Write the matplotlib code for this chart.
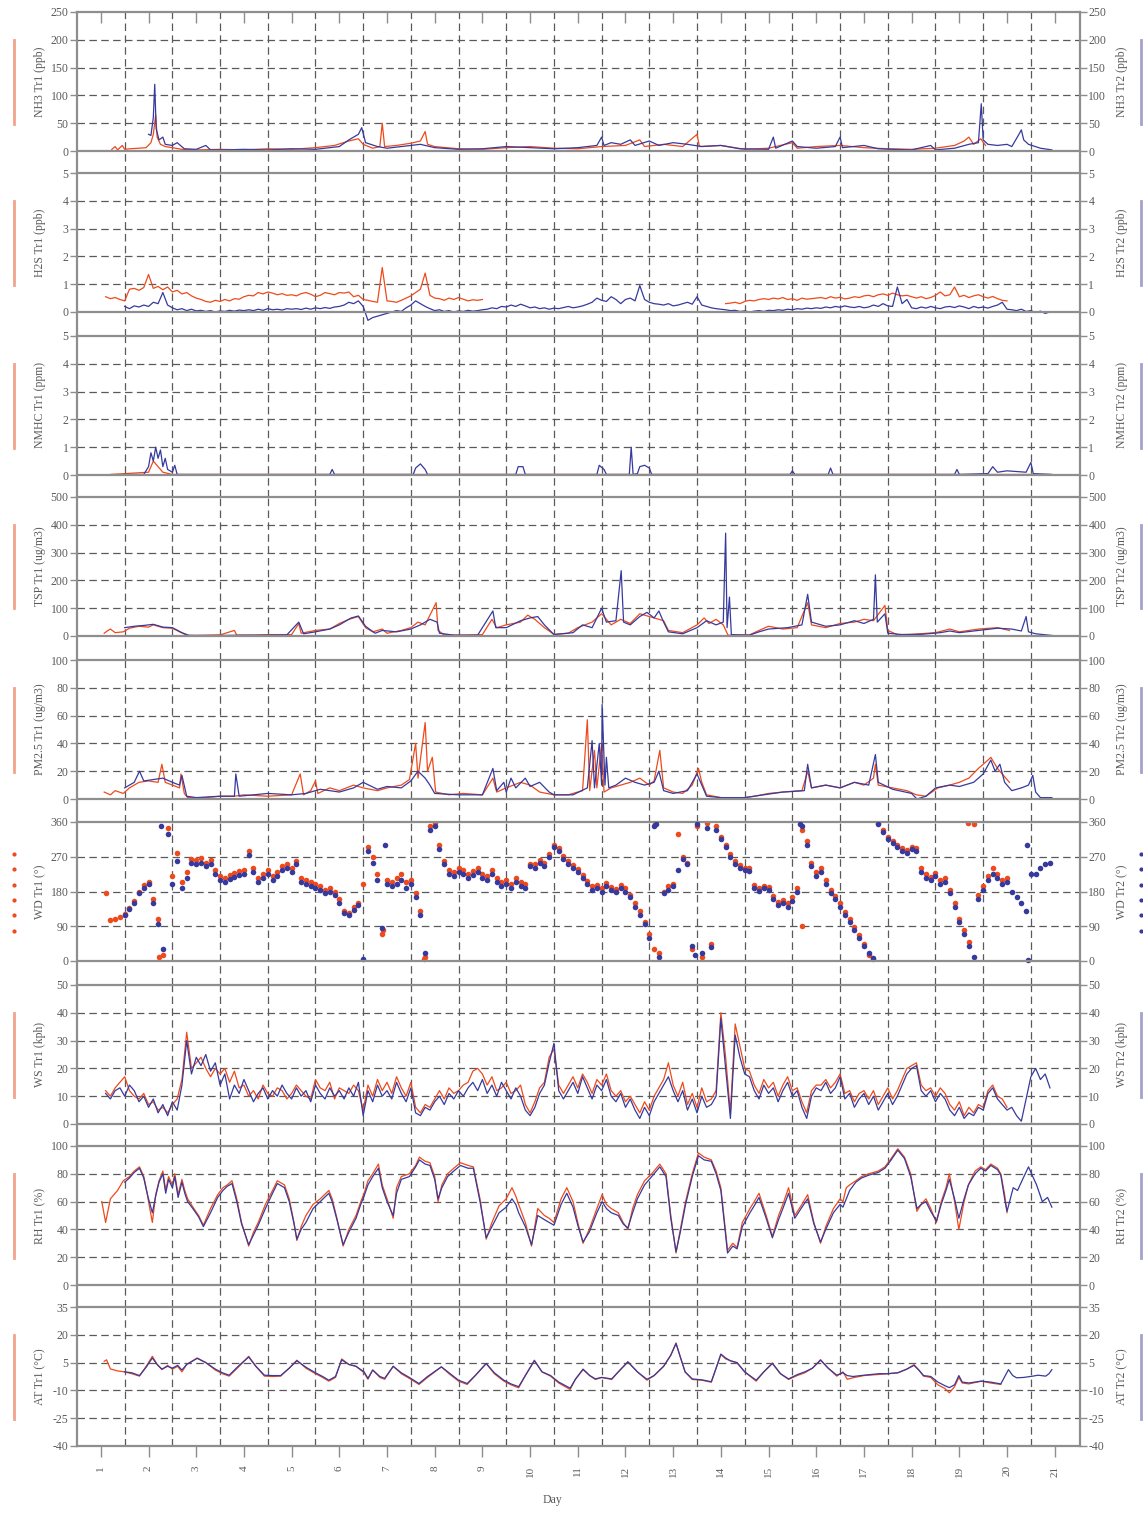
import numpy as np
import matplotlib
matplotlib.use("Agg")
import matplotlib.pyplot as plt
from matplotlib.lines import Line2D

plt.rcParams['font.family'] = ['Liberation Serif', 'DejaVu Serif']

C1 = '#ee4a1c'     # Tr1 orange
C2 = '#363a9e'     # Tr2 blue
GRID = '#5a5a5a'
FRAME = '#8e8e8e'
TXT = '#5a5a5a'

days = list(range(1, 22))
nan = np.nan

# ---------------- data (day, value) ----------------
nh3_tr1 = [(1.23, 3), (1.3, 8), (1.35, 2), (1.45, 10), (1.5, 3), (1.6, 4), (1.8, 5), (1.95, 6),
           (2.05, 15), (2.1, 30), (2.15, 65), (2.18, 25), (2.25, 12), (2.35, 8), (2.5, 6), (2.7, 3),
           (3.0, 2), (3.5, 3), (4.0, 2), (4.5, 4), (5.0, 3), (5.5, 6), (5.9, 10), (6.2, 18), (6.4, 22),
           (6.5, 12), (6.7, 5), (6.85, 8), (6.9, 50), (6.95, 8), (7.2, 10), (7.5, 14), (7.7, 18),
           (7.8, 35), (7.85, 12), (8.0, 8), (8.5, 4), (9.0, 3), (9.5, 6), (10.0, 8), (10.5, 5),
           (11.0, 4), (11.5, 8), (12.0, 10), (12.3, 20), (12.4, 8), (12.8, 12), (13.2, 8), (13.5, 30),
           (13.55, 8), (14.0, 10), (14.5, 3), (15.0, 5), (15.5, 15), (15.6, 5), (16.0, 8), (16.5, 10),
           (17.0, 6), (17.5, 4), (18.0, 3), (18.5, 5), (18.9, 10), (19.1, 18), (19.2, 25), (19.3, 12),
           (19.45, 22), (19.55, 10)]
nh3_tr2 = [(2.0, 30), (2.05, 28), (2.1, 60), (2.13, 120), (2.16, 40), (2.22, 20), (2.3, 25), (2.35, 12),
           (2.5, 10), (2.6, 15), (2.75, 4), (3.0, 3), (3.2, 10), (3.3, 2), (3.6, 2), (4.0, 3), (4.5, 2),
           (5.0, 4), (5.5, 3), (6.0, 8), (6.2, 20), (6.4, 30), (6.47, 42), (6.55, 15), (6.8, 8), (7.0, 5),
           (7.5, 10), (7.7, 12), (8.0, 6), (8.5, 3), (9.0, 4), (9.5, 8), (10.0, 6), (10.5, 4), (11.0, 6),
           (11.4, 10), (11.5, 25), (11.55, 10), (11.7, 15), (11.9, 12), (12.1, 20), (12.2, 10), (12.5, 18),
           (12.7, 10), (13.0, 15), (13.3, 12), (13.6, 8), (14.0, 10), (14.4, 4), (15.0, 3), (15.1, 25),
           (15.15, 5), (15.5, 18), (15.6, 8), (16.0, 5), (16.4, 8), (16.5, 25), (16.55, 6), (17.0, 10),
           (17.3, 4), (17.6, 3), (18.0, 2), (18.4, 10), (18.5, 2), (18.9, 5), (19.2, 12), (19.4, 15),
           (19.46, 85), (19.5, 20), (19.6, 12), (19.8, 10), (20.0, 12), (20.1, 8), (20.25, 30), (20.3, 38),
           (20.35, 20), (20.45, 12), (20.7, 5), (20.94, 2)]

# H2S sampled every 0.1 day from day 1.1 (one row per day)
h2s_tr1 = [0.55, 0.48, 0.52, 0.45, 0.4, 0.82, 0.85, 0.78, 0.88, 1.35,
           0.85, 0.92, 0.8, 0.9, 0.72, 0.78, 0.65, 0.7, 0.58, 0.5,
           0.45, 0.38, 0.35, 0.42, 0.38, 0.45, 0.4, 0.48, 0.46, 0.55,
           0.6, 0.58, 0.7, 0.65, 0.72, 0.68, 0.62, 0.66, 0.6, 0.62,
           0.58, 0.66, 0.7, 0.64, 0.55, 0.6, 0.7, 0.66, 0.62, 0.7,
           0.68, 0.72, 0.55, 0.6, 0.45, 0.42, 0.38, 0.35, 1.6, 0.4,
           0.38, 0.35, 0.42, 0.5, 0.58, 0.7, 0.82, 1.4, 0.6, 0.5,
           0.48, 0.42, 0.5, 0.45, 0.52, 0.46, 0.4, 0.44, 0.42, 0.45,
           nan, nan, nan, nan, nan, nan, nan, nan, nan, nan,
           nan, nan, nan, nan, nan, nan, nan, nan, nan, nan,
           nan, nan, nan, nan, nan, nan, nan, nan, nan, nan,
           nan, nan, nan, nan, nan, nan, nan, nan, nan, nan,
           nan, nan, nan, nan, nan, nan, nan, nan, nan, nan,
           0.3, 0.32, 0.35, 0.3, 0.38, 0.42, 0.4, 0.45, 0.48, 0.45,
           0.5, 0.47, 0.52, 0.45, 0.48, 0.42, 0.5, 0.46, 0.48, 0.5,
           0.52, 0.48, 0.55, 0.5, 0.53, 0.47, 0.5, 0.55, 0.52, 0.58,
           0.6, 0.55, 0.62, 0.65, 0.6, 0.68, 0.62, 0.58, 0.6, 0.55,
           0.5, 0.55, 0.48, 0.52, 0.6, 0.72, 0.58, 0.62, 0.9, 0.55,
           0.6, 0.52, 0.58, 0.62, 0.55, 0.5, 0.56, 0.48, 0.42, 0.4]
h2s_tr2 = [nan, nan, nan, nan, 0.2, 0.12, 0.22, 0.18, 0.25, 0.2,
           0.35, 0.3, 0.7, 0.25, 0.15, 0.08, 0.12, 0.05, 0.1, 0.04,
           0.06, 0.02, 0.05, 0.0, 0.04, 0.02, 0.06, 0.03, 0.07, 0.05,
           0.08, 0.05, 0.1, 0.06, 0.12, 0.08, 0.1, 0.07, 0.12, 0.1,
           0.12, 0.09, 0.14, 0.1, 0.15, 0.12, 0.16, 0.13, 0.18, 0.2,
           0.25, 0.35, 0.3, 0.4, 0.2, -0.3, -0.2, -0.15, -0.1, -0.05,
           0.0, 0.05, 0.02, 0.15, 0.25, 0.4, 0.3, 0.2, 0.12, 0.05,
           0.08, 0.02, 0.05, 0.0, 0.04, 0.02, 0.06, 0.03, 0.05, 0.08,
           0.1, 0.15, 0.12, 0.2, 0.18, 0.25, 0.2, 0.28, 0.22, 0.15,
           0.18, 0.12, 0.15, 0.1, 0.14, 0.12, 0.16, 0.2, 0.15, 0.18,
           0.22, 0.28, 0.35, 0.5, 0.42, 0.38, 0.55, 0.45, 0.3, 0.45,
           0.5, 0.4, 0.95, 0.45, 0.35, 0.3, 0.28, 0.25, 0.3, 0.22,
           0.25, 0.3, 0.35, 0.28, 0.55, 0.25, 0.2, 0.15, 0.12, 0.1,
           0.08, 0.05, 0.06, 0.02, 0.04, 0.0, 0.03, 0.05, 0.02, 0.06,
           0.05, 0.08, 0.06, 0.1, 0.08, 0.12, 0.1, 0.14, 0.12, 0.15,
           0.13, 0.18, 0.15, 0.2, 0.17, 0.22, 0.18, 0.16, 0.2, 0.15,
           0.18, 0.25, 0.2, 0.3, 0.22, 0.2, 0.9, 0.3, 0.45, 0.15,
           0.12, 0.18, 0.14, 0.2, 0.15, 0.12, 0.18, 0.2, 0.16, 0.22,
           0.18, 0.12, 0.2, 0.15, 0.18, 0.14, 0.2, 0.25, 0.35, 0.1,
           0.08, 0.05, 0.1, 0.02, 0.05, -0.02, 0.03, -0.05, 0.0]

nmhc_tr1 = [(1.2, 0.02), (2.0, 0.1), (2.1, 0.5), (2.2, 0.3), (2.3, 0.1), (2.5, 0.02), (20.9, 0.02)]
nmhc_tr2 = [(1.5, 0.02), (1.9, 0.02), (2.0, 0.3), (2.05, 0.8), (2.1, 0.5), (2.15, 1.0), (2.2, 0.6),
            (2.25, 0.9), (2.3, 0.3), (2.35, 0.6), (2.4, 0.2), (2.5, 0.1), (2.55, 0.35), (2.6, 0.02),
            (5.8, 0.02), (5.85, 0.2), (5.9, 0.02), (7.55, 0.02), (7.6, 0.25), (7.7, 0.4), (7.8, 0.2),
            (7.85, 0.02), (9.7, 0.02), (9.75, 0.3), (9.85, 0.3), (9.9, 0.02), (11.4, 0.02), (11.45, 0.35),
            (11.55, 0.2), (11.6, 0.02), (12.08, 0.02), (12.12, 1.0), (12.16, 0.02), (12.25, 0.05),
            (12.3, 0.3), (12.4, 0.35), (12.5, 0.25), (12.55, 0.02), (15.45, 0.02), (15.5, 0.15),
            (15.55, 0.02), (16.25, 0.02), (16.3, 0.25), (16.35, 0.02), (18.9, 0.02), (18.95, 0.2),
            (19.0, 0.02), (19.6, 0.05), (19.7, 0.3), (19.8, 0.1), (20.0, 0.15), (20.4, 0.1), (20.5, 0.45),
            (20.55, 0.05), (20.94, 0.02)]

tsp_tr1 = [(1.07, 10), (1.15, 20), (1.2, 25), (1.3, 12), (1.47, 15), (1.6, 28), (1.8, 35), (2.0, 32),
           (2.1, 40), (2.3, 30), (2.5, 28), (2.65, 15), (2.8, 3), (3.0, 2), (3.5, 4), (3.8, 20), (3.85, 3),
           (4.2, 3), (4.5, 5), (5.0, 5), (5.15, 45), (5.2, 10), (5.5, 20), (5.8, 25), (6.0, 45), (6.2, 60),
           (6.4, 70), (6.55, 30), (6.7, 15), (6.9, 25), (7.0, 10), (7.3, 20), (7.5, 30), (7.65, 50),
           (7.8, 40), (8.03, 120), (8.07, 20), (8.2, 4), (8.6, 3), (9.0, 5), (9.2, 60), (9.3, 30),
           (9.5, 40), (9.8, 50), (9.95, 75), (10.1, 60), (10.3, 30), (10.5, 6), (10.8, 10), (11.0, 30),
           (11.3, 50), (11.5, 80), (11.7, 40), (11.9, 60), (12.1, 45), (12.3, 80), (12.5, 70), (12.7, 60),
           (12.8, 55), (12.9, 20), (13.2, 12), (13.5, 40), (13.65, 65), (13.75, 45), (13.9, 60), (14.05, 40),
           (14.15, 3), (14.6, 4), (14.8, 20), (15.0, 35), (15.3, 25), (15.6, 30), (15.82, 120), (15.9, 40),
           (16.2, 30), (16.5, 45), (16.8, 50), (17.0, 60), (17.2, 55), (17.44, 110), (17.5, 20), (17.7, 5),
           (18.0, 6), (18.5, 12), (18.8, 25), (19.0, 15), (19.4, 25), (19.8, 30), (20.05, 20)]
tsp_tr2 = [(1.5, 30), (1.7, 35), (1.9, 38), (2.1, 42), (2.3, 32), (2.5, 30), (2.7, 12), (2.85, 2),
           (3.5, 2), (4.0, 3), (4.5, 3), (4.9, 4), (5.15, 50), (5.25, 8), (5.5, 15), (5.8, 25), (6.0, 40),
           (6.25, 65), (6.4, 72), (6.55, 35), (6.75, 10), (6.9, 20), (7.2, 15), (7.5, 25), (7.7, 40),
           (7.9, 60), (8.05, 50), (8.1, 10), (8.4, 3), (8.9, 3), (9.22, 90), (9.28, 30), (9.5, 30),
           (9.8, 55), (10.0, 65), (10.16, 70), (10.3, 40), (10.5, 5), (10.9, 12), (11.1, 40), (11.3, 30),
           (11.5, 100), (11.6, 50), (11.8, 55), (11.91, 235), (11.96, 50), (12.1, 40), (12.3, 70),
           (12.45, 85), (12.6, 65), (12.7, 90), (12.8, 50), (12.9, 15), (13.2, 8), (13.5, 30), (13.7, 55),
           (13.9, 40), (14.05, 50), (14.1, 370), (14.13, 30), (14.18, 140), (14.22, 5), (14.6, 3),
           (14.8, 15), (15.0, 25), (15.4, 30), (15.7, 40), (15.82, 150), (15.9, 50), (16.2, 35), (16.5, 40),
           (16.8, 55), (17.0, 45), (17.2, 60), (17.24, 220), (17.28, 50), (17.44, 80), (17.5, 10), (17.8, 5),
           (18.2, 6), (18.6, 12), (18.8, 18), (19.0, 12), (19.4, 20), (19.8, 28), (20.1, 25), (20.3, 18),
           (20.4, 70), (20.45, 15), (20.6, 8), (20.94, 2)]

pm25_tr1 = [(1.07, 5), (1.2, 3), (1.3, 6), (1.47, 4), (1.6, 8), (1.8, 12), (2.0, 13), (2.2, 12), (2.28, 25),
            (2.35, 12), (2.5, 10), (2.65, 8), (2.68, 18), (2.75, 4), (2.82, 1), (3.2, 1), (3.5, 2), (3.8, 2),
            (4.0, 3), (4.5, 2), (5.0, 3), (5.18, 18), (5.25, 3), (5.4, 6), (5.5, 13), (5.55, 4), (5.8, 8),
            (6.0, 6), (6.3, 10), (6.5, 8), (6.8, 6), (7.0, 8), (7.3, 10), (7.47, 14), (7.6, 40), (7.65, 15),
            (7.8, 55), (7.85, 20), (7.95, 30), (8.02, 5), (8.3, 3), (8.6, 4), (9.0, 3), (9.22, 15), (9.3, 5),
            (9.5, 8), (9.8, 12), (10.0, 10), (10.2, 5), (10.5, 3), (10.8, 3), (11.1, 6), (11.2, 57),
            (11.25, 6), (11.35, 35), (11.4, 8), (11.5, 40), (11.55, 5), (11.7, 8), (11.9, 10), (12.1, 12),
            (12.3, 15), (12.5, 10), (12.6, 13), (12.72, 35), (12.8, 8), (13.0, 5), (13.2, 4), (13.4, 10),
            (13.53, 22), (13.6, 12), (13.7, 3), (14.0, 1), (14.3, 0), (14.7, 2), (15.0, 4), (15.3, 5),
            (15.7, 6), (15.82, 20), (15.9, 8), (16.2, 10), (16.5, 8), (16.8, 12), (17.0, 10), (17.2, 15),
            (17.24, 25), (17.3, 10), (17.6, 8), (17.9, 6), (18.1, 3), (18.3, 2), (18.55, 8), (18.8, 10),
            (19.0, 12), (19.2, 15), (19.4, 22), (19.6, 28), (19.66, 30), (19.8, 22), (20.05, 12)]
pm25_tr2 = [(1.5, 8), (1.7, 12), (1.81, 20), (1.9, 13), (2.1, 14), (2.3, 15), (2.5, 12), (2.65, 10), (2.7, 17),
            (2.8, 2), (3.0, 1), (3.5, 2), (3.8, 2), (3.83, 18), (3.9, 2), (4.2, 3), (4.5, 4), (5.0, 3),
            (5.3, 4), (5.6, 7), (6.0, 5), (6.3, 8), (6.5, 12), (6.8, 7), (7.0, 9), (7.3, 8), (7.5, 13),
            (7.65, 20), (7.8, 15), (7.9, 10), (8.0, 4), (8.5, 3), (9.0, 3), (9.22, 22), (9.3, 6), (9.45, 12),
            (9.5, 5), (9.6, 15), (9.7, 8), (9.9, 15), (10.0, 9), (10.2, 12), (10.4, 5), (10.5, 3), (10.9, 3),
            (11.2, 8), (11.3, 42), (11.35, 8), (11.45, 40), (11.5, 10), (11.51, 68), (11.57, 10), (11.6, 30),
            (11.65, 8), (11.8, 10), (12.0, 15), (12.2, 12), (12.4, 10), (12.6, 12), (12.7, 20), (12.8, 6),
            (13.0, 4), (13.3, 6), (13.5, 18), (13.6, 10), (13.7, 2), (14.0, 1), (14.5, 1), (14.9, 3),
            (15.3, 5), (15.75, 6), (15.82, 25), (15.9, 8), (16.2, 10), (16.5, 8), (16.8, 12), (17.1, 10),
            (17.24, 32), (17.3, 12), (17.6, 7), (18.0, 4), (18.11, 0), (18.3, 2), (18.5, 8), (18.8, 10),
            (19.0, 9), (19.3, 12), (19.5, 18), (19.66, 28), (19.75, 20), (19.85, 25), (19.95, 12), (20.1, 6),
            (20.3, 8), (20.45, 10), (20.54, 17), (20.6, 5), (20.7, 1), (20.94, 1)]

# wind direction / wind speed sampled every 0.1 day from day 1.1
wd_tr1 = [175, 105, 110, 115, 122, 138, 155, 180, 198, 205,
          160, 110, 15, 345, 220, 280, 205, 230, 265, 262,
          268, 255, 262, 235, 220, 215, 222, 228, 232, 235,
          285, 240, 215, 225, 235, 220, 230, 245, 250, 240,
          260, 215, 210, 205, 200, 195, 185, 190, 180, 160,
          130, 125, 140, 150, 200, 295, 270, 225, 70, 210,
          205, 215, 225, 205, 210, 175, 130, 10, 350, 358,
          300, 260, 235, 230, 240, 235, 225, 232, 240, 225,
          220, 235, 215, 205, 210, 200, 215, 205, 200, 250,
          250, 262, 255, 278, 300, 292, 272, 258, 248, 238,
          222, 208, 195, 198, 188, 203, 192, 186, 198, 188,
          172, 150, 130, 100, 70, 30, 20, 180, 195, 200,
          330, 270, 255, 30, 350, 10, 358, 45, 350, 320,
          300, 278, 258, 248, 242, 240, 198, 190, 195, 192,
          168, 152, 158, 150, 165, 190, 340, 310, 255, 230,
          240, 210, 185, 168, 150, 128, 108, 88, 68, 45,
          15, 5, 358, 340, 322, 312, 300, 292, 288, 295,
          292, 240, 225, 218, 228, 210, 215, 185, 150, 110,
          80, 50, 355, 170, 195, 220, 240, 225, 210, 215]
wd_tr2 = [nan, nan, nan, nan, 120, 135, 150, 175, 190, 200,
          150, 95, 30, 330, 200, 260, 190, 215, 255, 250,
          255, 245, 250, 225, 210, 205, 212, 218, 222, 225,
          275, 230, 205, 215, 225, 210, 220, 235, 240, 230,
          250, 205, 200, 195, 190, 185, 175, 180, 170, 150,
          125, 118, 132, 145, 5, 285, 255, 210, 85, 200,
          195, 200, 210, 190, 200, 165, 120, 20, 340, 350,
          290, 250, 225, 220, 230, 225, 215, 222, 230, 215,
          210, 225, 205, 195, 200, 190, 205, 195, 190, 245,
          240, 255, 245, 270, 295, 285, 265, 250, 240, 230,
          215, 200, 185, 190, 180, 195, 185, 178, 190, 180,
          165, 140, 120, 95, 60, 350, 10, 175, 185, 195,
          235, 265, 250, 40, 355, 20, 345, 35, 340, 315,
          295, 270, 250, 240, 235, 232, 190, 182, 188, 185,
          160, 145, 150, 140, 155, 180, 350, 300, 245, 220,
          230, 200, 175, 160, 140, 120, 100, 80, 60, 40,
          20, 8, 355, 335, 315, 305, 295, 285, 280, 290,
          285, 230, 215, 210, 220, 200, 205, 175, 140, 100,
          70, 40, 10, 160, 185, 210, 225, 215, 200, 205,
          180, 165, 150, 130, 225, 225, 240, 250, 255]
wd_tr1_extra = [(2.22, 10), (6.92, 80), (7.78, 5), (12.62, 355), (15.7, 90), (19.18, 358)]
wd_tr2_extra = [(2.27, 350), (6.95, 300), (12.65, 355), (13.45, 15), (15.65, 355), (20.42, 300), (20.45, 3)]

ws_tr1 = [12, 10, 13, 15, 17, 12, 10, 9, 11, 7,
          8, 5, 6, 4, 7, 9, 16, 33, 20, 22,
          24, 20, 17, 20, 18, 20, 15, 19, 13, 14,
          10, 12, 9, 14, 11, 10, 13, 12, 9, 11,
          14, 12, 10, 9, 16, 13, 12, 15, 9, 13,
          12, 11, 14, 12, 5, 14, 10, 16, 12, 15,
          11, 17, 13, 10, 15, 6, 4, 7, 6, 9,
          12, 9, 13, 11, 12, 14, 15, 19, 20, 18,
          14, 17, 12, 13, 15, 11, 12, 14, 7, 4,
          8, 13, 15, 24, 27, 14, 11, 14, 17, 13,
          18, 15, 11, 16, 14, 18, 12, 10, 12, 8,
          10, 7, 4, 8, 5, 10, 13, 16, 22, 14,
          10, 15, 7, 11, 6, 13, 8, 9, 12, 40,
          24, 4, 36, 28, 20, 19, 14, 11, 16, 13,
          15, 10, 14, 17, 12, 13, 8, 4, 12, 14,
          14, 16, 13, 15, 18, 11, 12, 8, 11, 12,
          9, 12, 7, 10, 13, 9, 12, 16, 20, 21,
          22, 14, 12, 13, 10, 13, 11, 7, 5, 8,
          3, 6, 4, 7, 6, 12, 14, 10, 9, 6]
ws_tr2 = [11, 9, 12, 13, 10, 14, 12, 8, 10, 6,
          9, 4, 7, 3, 8, 5, 14, 30, 18, 24,
          21, 25, 19, 22, 14, 18, 9, 14, 11, 16,
          12, 8, 11, 13, 9, 12, 10, 14, 11, 9,
          13, 10, 12, 8, 14, 11, 9, 13, 10, 12,
          9, 13, 10, 15, 3, 12, 8, 14, 10, 12,
          9, 15, 11, 8, 13, 4, 3, 6, 5, 8,
          10, 7, 11, 9, 12, 10, 13, 15, 12, 16,
          11, 14, 10, 15, 12, 9, 13, 10, 5, 3,
          6, 11, 14, 22, 29, 12, 9, 12, 15, 11,
          17, 13, 9, 14, 12, 16, 10, 8, 11, 6,
          9, 5, 2, 6, 3, 8, 11, 14, 17, 12,
          8, 12, 5, 9, 4, 10, 6, 7, 10, 38,
          20, 2, 32, 24, 18, 17, 12, 9, 14, 11,
          13, 8, 12, 15, 10, 12, 6, 2, 10, 13,
          12, 15, 11, 13, 17, 9, 11, 6, 9, 11,
          7, 10, 5, 8, 11, 7, 10, 14, 18, 20,
          21, 12, 10, 12, 8, 11, 9, 5, 3, 6,
          2, 4, 3, 6, 5, 11, 13, 9, 7, 5,
          6, 3, 1, 9, 17, 20, 16, 18, 13]

rh_tr1 = [(1.02, 60), (1.1, 45), (1.2, 62), (1.35, 68), (1.47, 75), (1.6, 78), (1.7, 82), (1.81, 85),
          (1.9, 78), (1.95, 70), (2.0, 60), (2.08, 45), (2.15, 65), (2.22, 75), (2.3, 82), (2.36, 68),
          (2.42, 78), (2.5, 72), (2.55, 80), (2.62, 65), (2.7, 76), (2.76, 68), (2.82, 62), (2.95, 55),
          (3.05, 50), (3.15, 43), (3.3, 55), (3.45, 65), (3.56, 70), (3.65, 72), (3.75, 75), (3.85, 62),
          (3.95, 45), (4.1, 28), (4.2, 38), (4.3, 45), (4.45, 58), (4.6, 68), (4.7, 75), (4.85, 72),
          (4.95, 62), (5.05, 45), (5.11, 32), (5.2, 42), (5.3, 50), (5.45, 58), (5.6, 62), (5.78, 68),
          (5.85, 62), (5.95, 48), (6.08, 28), (6.2, 40), (6.35, 50), (6.45, 60), (6.52, 66), (6.6, 75),
          (6.7, 80), (6.82, 87), (6.9, 72), (7.0, 62), (7.13, 48), (7.2, 70), (7.3, 78), (7.47, 80),
          (7.6, 86), (7.68, 92), (7.8, 89), (7.9, 88), (8.0, 78), (8.07, 60), (8.15, 72), (8.27, 80),
          (8.4, 84), (8.54, 88), (8.7, 86), (8.81, 85), (8.95, 62), (9.08, 33), (9.2, 45), (9.35, 57),
          (9.5, 62), (9.62, 70), (9.7, 64), (9.76, 58), (9.9, 45), (10.03, 28), (10.16, 55), (10.3, 50),
          (10.4, 48), (10.5, 45), (10.65, 62), (10.77, 70), (10.9, 60), (11.0, 45), (11.11, 30),
          (11.24, 40), (11.4, 55), (11.51, 65), (11.6, 58), (11.7, 55), (11.85, 52), (11.95, 45),
          (12.05, 40), (12.15, 55), (12.25, 65), (12.4, 75), (12.55, 80), (12.72, 87), (12.85, 80),
          (12.95, 50), (13.06, 23), (13.15, 40), (13.26, 60), (13.4, 80), (13.53, 95), (13.65, 92),
          (13.8, 90), (13.9, 82), (14.0, 70), (14.14, 25), (14.25, 30), (14.34, 27), (14.45, 45),
          (14.61, 55), (14.7, 60), (14.8, 66), (14.95, 50), (15.08, 35), (15.21, 50), (15.3, 58),
          (15.42, 70), (15.55, 50), (15.7, 58), (15.82, 65), (15.95, 45), (16.09, 30), (16.2, 42),
          (16.36, 55), (16.5, 62), (16.56, 60), (16.63, 70), (16.7, 72), (16.83, 75), (16.95, 78),
          (17.1, 80), (17.3, 82), (17.44, 85), (17.55, 90), (17.71, 98), (17.85, 92), (17.98, 80),
          (18.11, 53), (18.2, 58), (18.3, 62), (18.4, 55), (18.52, 45), (18.62, 60), (18.72, 70),
          (18.79, 80), (18.9, 60), (18.99, 40), (19.1, 60), (19.19, 72), (19.33, 82), (19.45, 85),
          (19.55, 83), (19.66, 87), (19.8, 84), (19.87, 80), (19.95, 65), (20.0, 52)]
rh_tr2 = [(1.5, 74), (1.6, 77), (1.7, 81), (1.81, 84), (1.9, 77), (1.95, 69), (2.0, 62), (2.08, 52),
          (2.15, 64), (2.22, 74), (2.3, 80), (2.36, 66), (2.42, 76), (2.5, 70), (2.55, 78), (2.62, 63),
          (2.7, 74), (2.76, 66), (2.82, 60), (2.95, 54), (3.05, 49), (3.15, 42), (3.3, 52), (3.45, 63),
          (3.56, 68), (3.65, 71), (3.75, 73), (3.85, 60), (3.95, 44), (4.1, 29), (4.2, 36), (4.3, 43),
          (4.45, 55), (4.6, 66), (4.7, 73), (4.85, 70), (4.95, 60), (5.05, 44), (5.11, 33), (5.2, 40),
          (5.3, 45), (5.45, 55), (5.6, 60), (5.78, 66), (5.85, 60), (5.95, 47), (6.08, 29), (6.2, 38),
          (6.35, 48), (6.45, 58), (6.52, 64), (6.6, 72), (6.7, 78), (6.82, 84), (6.9, 70), (7.0, 60),
          (7.13, 50), (7.2, 66), (7.3, 76), (7.47, 78), (7.6, 85), (7.68, 90), (7.8, 87), (7.9, 86),
          (8.0, 76), (8.07, 62), (8.15, 70), (8.27, 78), (8.4, 82), (8.54, 86), (8.7, 84), (8.81, 84),
          (8.95, 60), (9.08, 34), (9.2, 42), (9.35, 52), (9.5, 56), (9.62, 62), (9.7, 58), (9.76, 52),
          (9.9, 42), (10.03, 29), (10.16, 50), (10.3, 47), (10.4, 45), (10.5, 43), (10.65, 58),
          (10.77, 66), (10.9, 56), (11.0, 43), (11.11, 31), (11.24, 38), (11.4, 52), (11.51, 60),
          (11.6, 55), (11.7, 52), (11.85, 50), (11.95, 44), (12.05, 41), (12.15, 52), (12.25, 62),
          (12.4, 72), (12.55, 78), (12.72, 85), (12.85, 78), (12.95, 48), (13.06, 24), (13.15, 38),
          (13.26, 58), (13.4, 78), (13.53, 93), (13.65, 90), (13.8, 89), (13.9, 80), (14.0, 68),
          (14.14, 23), (14.25, 28), (14.34, 26), (14.45, 42), (14.61, 52), (14.7, 57), (14.8, 63),
          (14.95, 48), (15.08, 34), (15.21, 47), (15.3, 55), (15.42, 66), (15.55, 48), (15.7, 56),
          (15.82, 62), (15.95, 44), (16.09, 31), (16.2, 40), (16.36, 52), (16.5, 58), (16.56, 56),
          (16.63, 62), (16.7, 68), (16.83, 74), (16.95, 77), (17.1, 79), (17.3, 81), (17.44, 84),
          (17.55, 89), (17.71, 97), (17.85, 91), (17.98, 78), (18.11, 55), (18.2, 58), (18.3, 60),
          (18.4, 53), (18.52, 46), (18.62, 58), (18.72, 68), (18.79, 76), (18.9, 62), (18.99, 48),
          (19.1, 62), (19.19, 72), (19.33, 80), (19.45, 84), (19.55, 82), (19.66, 86), (19.8, 83),
          (19.87, 79), (19.95, 62), (20.0, 53), (20.13, 70), (20.22, 68), (20.3, 74), (20.45, 85),
          (20.54, 78), (20.62, 72), (20.74, 60), (20.85, 63), (20.94, 56)]

at_tr1 = [(1.07, 5.7), (1.12, 6.5), (1.2, 1.6), (1.35, 0.5), (1.5, 0), (1.65, -1), (1.81, -2.3), (1.95, 3),
          (2.08, 8.4), (2.18, 4), (2.28, 1.2), (2.4, 3.5), (2.5, 1.5), (2.61, 3), (2.7, 0), (2.8, 4),
          (3.02, 7.5), (3.2, 5), (3.4, 1), (3.55, -1), (3.69, -2.3), (3.9, 3), (4.1, 8.4), (4.25, 3),
          (4.43, -2.3), (4.6, -2.5), (4.77, -2.3), (4.95, 2), (5.11, 6.3), (5.3, 2), (5.5, -1), (5.65, -3),
          (5.78, -5), (5.92, -3), (6.05, 7), (6.2, 4), (6.35, 3), (6.52, -0.5), (6.6, -4), (6.7, 1),
          (6.85, -3), (6.95, -4), (7.13, 3), (7.3, -1), (7.5, -4), (7.67, -6.8), (7.85, -3), (8.14, 2.7),
          (8.3, -1), (8.5, -5), (8.68, -6.8), (8.85, -2), (9.08, 4.5), (9.25, -1), (9.45, -5), (9.6, -7),
          (9.76, -8.6), (9.9, -2), (10.09, 6.3), (10.25, 0), (10.43, -2.3), (10.6, -6), (10.84, -9.5),
          (10.95, -4), (11.11, 1.2), (11.25, -2), (11.37, -4.1), (11.5, -3), (11.71, -4.1), (11.85, 0),
          (12.05, 5.4), (12.25, 0), (12.45, -4.5), (12.6, -2), (12.8, 3), (12.95, 9), (13.06, 15.6),
          (13.15, 8), (13.25, 0), (13.4, -4.1), (13.6, -4.5), (13.8, -5.6), (13.9, 2), (14.0, 9.3),
          (14.1, 7), (14.2, 6), (14.34, 4.8), (14.5, 0), (14.74, -5), (14.9, 0), (15.08, 4.8), (15.25, -1),
          (15.42, -4.1), (15.6, -2), (15.76, -0.5), (15.92, 2), (16.09, 6.6), (16.25, 2), (16.43, -2.3),
          (16.56, 0), (16.65, -4), (16.77, -3.2), (17.0, -2), (17.31, -1.4), (17.5, -1), (17.71, -0.5),
          (17.9, 1.5), (18.05, 3.9), (18.15, 1), (18.25, -2.3), (18.4, -3), (18.55, -7), (18.7, -9),
          (18.79, -11.3), (18.9, -8), (18.99, -3), (19.06, -6), (19.2, -6.5), (19.46, -5), (19.65, -6),
          (19.87, -6.8)]
at_tr2 = [(1.5, 0), (1.65, -0.5), (1.81, -2), (1.95, 2.5), (2.08, 7.5), (2.18, 4), (2.28, 1.5), (2.4, 3),
          (2.5, 2), (2.61, 3.5), (2.7, 1), (2.8, 4), (3.02, 7.3), (3.2, 5), (3.4, 1.5), (3.55, -0.5),
          (3.69, -1.8), (3.9, 3.5), (4.1, 8), (4.25, 3), (4.43, -1.8), (4.6, -2), (4.77, -2), (4.95, 2),
          (5.11, 6), (5.3, 2.5), (5.5, -0.5), (5.65, -2.5), (5.78, -4.5), (5.92, -2.5), (6.05, 6.5), (6.2, 4),
          (6.35, 3), (6.52, 0), (6.6, -3.5), (6.7, 1), (6.85, -2.5), (6.95, -3.5), (7.13, 3), (7.3, -0.5),
          (7.5, -3.5), (7.67, -6.3), (7.85, -2.5), (8.14, 2.7), (8.3, -0.5), (8.5, -4.5), (8.68, -6.3),
          (8.85, -2), (9.08, 4.5), (9.25, -0.5), (9.45, -4.5), (9.6, -6.5), (9.76, -8), (9.9, -2),
          (10.09, 6), (10.25, 0), (10.43, -2), (10.6, -5.5), (10.84, -8.8), (10.95, -4), (11.11, 1.5),
          (11.25, -2), (11.37, -3.8), (11.5, -3), (11.71, -3.8), (11.85, 0), (12.05, 5.4), (12.25, 0),
          (12.45, -4), (12.6, -2), (12.8, 3), (12.95, 9), (13.06, 15.3), (13.15, 8), (13.25, 0),
          (13.4, -3.8), (13.6, -4.3), (13.8, -5.3), (13.9, 2), (14.0, 9.6), (14.1, 7.5), (14.2, 6),
          (14.34, 5), (14.5, 0), (14.74, -4.5), (14.9, 0), (15.08, 4.5), (15.25, -1), (15.42, -3.8),
          (15.6, -1.5), (15.76, 0), (15.92, 2), (16.09, 6.3), (16.25, 2), (16.43, -1.8), (16.56, -0.5),
          (16.65, -2), (16.77, -2.5), (17.0, -1.8), (17.31, -1), (17.5, -1), (17.71, -0.5), (17.9, 1.5),
          (18.05, 3.5), (18.15, 1), (18.25, -2), (18.4, -2.5), (18.55, -5.5), (18.7, -7.5), (18.79, -8.5),
          (18.9, -7), (18.99, -2), (19.06, -5.5), (19.2, -6), (19.46, -5), (19.65, -5.5), (19.87, -6.5),
          (20.03, 1.2), (20.12, -2), (20.2, -3.2), (20.35, -3), (20.54, -2.3), (20.65, -1.8),
          (20.81, -2.3), (20.88, -1), (20.94, 1.2)]

# ---------------- panel set-up ----------------
panels = [
    ("NH3", "ppb", 0, 250, np.arange(0, 251, 50), nh3_tr1, nh3_tr2),
    ("H2S", "ppb", 0, 5, np.arange(0, 6, 1), h2s_tr1, h2s_tr2),
    ("NMHC", "ppm", 0, 5, np.arange(0, 6, 1), nmhc_tr1, nmhc_tr2),
    ("TSP", "ug/m3", 0, 500, np.arange(0, 501, 100), tsp_tr1, tsp_tr2),
    ("PM2.5", "ug/m3", 0, 100, np.arange(0, 101, 20), pm25_tr1, pm25_tr2),
    ("WD", "°", 0, 360, np.arange(0, 361, 90), wd_tr1, wd_tr2),
    ("WS", "kph", 0, 50, np.arange(0, 51, 10), ws_tr1, ws_tr2),
    ("RH", "%", 0, 100, np.arange(0, 101, 20), rh_tr1, rh_tr2),
    ("AT", "°C", -40, 35, np.arange(-40, 36, 15), at_tr1, at_tr2),
]
gridded = ("H2S", "WS")

t_grid = np.round(1.1 + 0.1 * np.arange(199), 2)

W, H = 1143.0, 1513.0
X0, X1 = 77, 1080
tops = [12, 173, 336, 497, 660, 822, 985, 1146, 1307]
bottoms = tops[1:] + [1446]
DATA_PX = 139

fig = plt.figure(figsize=(W / 100, H / 100), dpi=100)
dash = (0, (6, 3.5))

for i, (name, unit, y0, y1, yt, s1, s2) in enumerate(panels):
    top, bot = tops[i], bottoms[i]
    last = i == len(panels) - 1
    ax = fig.add_axes([X0 / W, 1 - bot / H, (X1 - X0) / W, (bot - top) / H])
    ax.set_xlim(0.5, 21.53)
    if last:
        ax.set_ylim(y0, y1)
        zero_px = bot
    else:
        zero_px = top + DATA_PX
        ax.set_ylim(-y1 * (bot - zero_px) / DATA_PX, y1)

    # grid
    for x in np.arange(1.5, 21, 1.0):
        ax.axvline(x, color=GRID, lw=0.9, ls=dash, zorder=1)
    for y in yt:
        if y not in (y0, y1):
            ax.axhline(y, color=GRID, lw=0.9, ls=dash, zorder=1)
    if not last:
        ax.axhline(0, color=FRAME, lw=1.6, zorder=4)

    # data
    if name == "WD":
        ax.plot(t_grid[:len(s1)], s1, 'o', color=C1, ms=4, mew=0, zorder=2)
        ax.plot(t_grid[:len(s2)], s2, 'o', color=C2, ms=4, mew=0, zorder=3)
        e1 = np.array(wd_tr1_extra).T
        e2 = np.array(wd_tr2_extra).T
        ax.plot(e1[0], e1[1], 'o', color=C1, ms=4, mew=0, zorder=2)
        ax.plot(e2[0], e2[1], 'o', color=C2, ms=4, mew=0, zorder=3)
    elif name in gridded:
        ax.plot(t_grid[:len(s1)], s1, color=C1, lw=0.9, zorder=2)
        ax.plot(t_grid[:len(s2)], s2, color=C2, lw=0.9, zorder=3)
    else:
        a1 = np.array(s1, dtype=float).T
        a2 = np.array(s2, dtype=float).T
        ax.plot(a1[0], a1[1], color=C1, lw=0.9, zorder=2)
        ax.plot(a2[0], a2[1], color=C2, lw=0.9, zorder=3)

    # frame
    for side, sp in ax.spines.items():
        sp.set_color(FRAME)
        sp.set_linewidth(1.6)
    if not last:
        ax.spines['bottom'].set_visible(False)

    ax.set_yticks(yt)
    ax.set_yticklabels([str(v) for v in yt])
    ax.tick_params(axis='y', direction='out', length=5, width=1, color=FRAME,
                   labelcolor=TXT, labelsize=8.5, left=True, right=True,
                   labelleft=True, labelright=True, pad=1)
    ax.set_xticks(days)
    if i == 0:
        ax.tick_params(axis='x', top=True, bottom=False, direction='in', length=8,
                       width=1, color=FRAME, labelbottom=False)
    elif last:
        ax.tick_params(axis='x', top=False, bottom=True, direction='out', length=8,
                       width=1, color=FRAME, labelcolor=TXT, labelsize=8,
                       labelrotation=90, pad=6)
    else:
        ax.tick_params(axis='x', top=False, bottom=False, labelbottom=False)

    # side labels and cropped legend marks
    yc = 1 - ((top + zero_px) / 2) / H
    fig.text(40 / W, yc, f"{name} Tr1 ({unit})", rotation=90, ha='center', va='center',
             color=TXT, fontsize=8.5)
    fig.text(1122 / W, yc, f"{name} Tr2 ({unit})", rotation=90, ha='center', va='center',
             color=TXT, fontsize=8.5)
    if name == "WD":
        for k in range(6):
            yy = 1 - ((top + zero_px) / 2 - 38 + k * 15.5) / H
            fig.add_artist(Line2D([14 / W], [yy], marker='o', ms=3, color=C1, mew=0))
            fig.add_artist(Line2D([1141 / W], [yy], marker='o', ms=3, color=C2, mew=0))
    else:
        ya = 1 - ((top + zero_px) / 2 - 42) / H
        yb = 1 - ((top + zero_px) / 2 + 42) / H
        fig.add_artist(Line2D([14 / W, 14 / W], [ya, yb], color='#f0a48c', lw=2))
        fig.add_artist(Line2D([1141 / W, 1141 / W], [ya, yb], color='#a2a2cc', lw=2))

fig.text(552 / W, 1 - 1500 / H, "Day", ha='center', va='center', color=TXT, fontsize=8.5)

fig.savefig("out.png", dpi=100)
